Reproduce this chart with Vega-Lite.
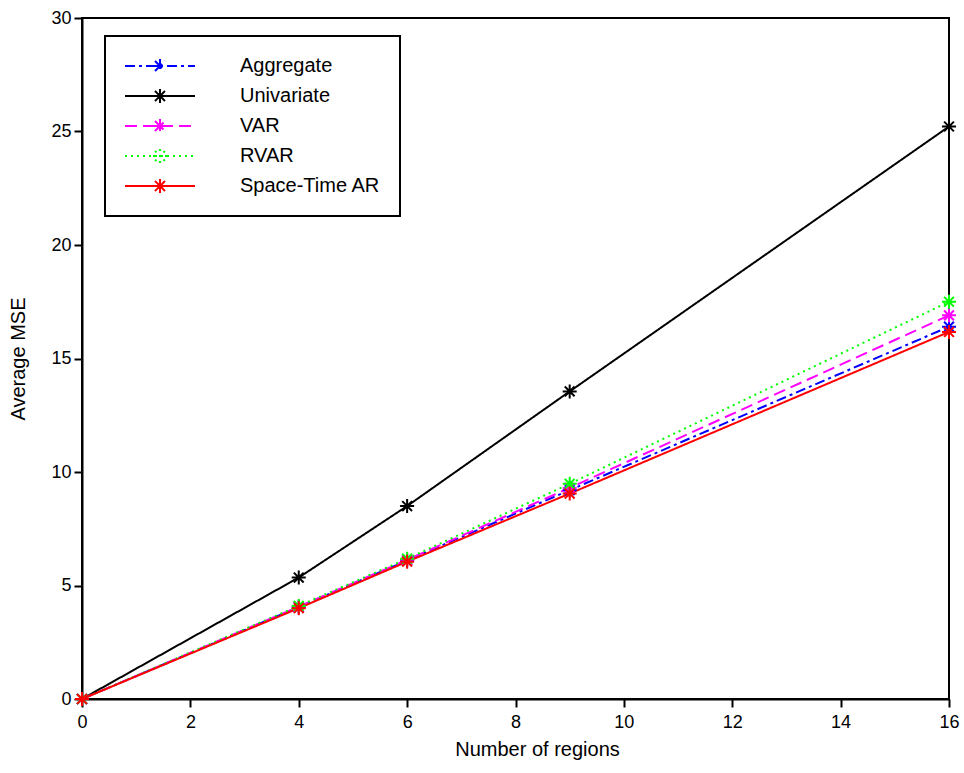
{
  "$schema": "https://vega.github.io/schema/vega-lite/v6.json",
  "width": 867,
  "height": 681,
  "autosize": {"type": "none"},
  "padding": {"left": 82, "top": 18, "right": 15, "bottom": 74},
  "background": "white",
  "config": {
    "view": {"stroke": "black", "strokeWidth": 2},
    "font": "Liberation Sans",
    "axis": {
      "grid": false,
      "domainColor": "black",
      "domainWidth": 2,
      "tickColor": "black",
      "tickWidth": 2,
      "tickSize": 8,
      "labelFlush": false,
      "labelFont": "Liberation Sans",
      "labelFontSize": 18,
      "labelColor": "black",
      "titleFont": "Liberation Sans",
      "titleFontSize": 20,
      "titleFontWeight": "normal",
      "titleColor": "black"
    },
    "legend": {
      "labelFont": "Liberation Sans",
      "labelFontSize": 20,
      "labelColor": "black"
    }
  },
  "data": {
    "values": [
      {"series": "Aggregate", "n": 0, "mse": 0},
      {"series": "Aggregate", "n": 4, "mse": 4.05},
      {"series": "Aggregate", "n": 6, "mse": 6.1},
      {"series": "Aggregate", "n": 9, "mse": 9.2},
      {"series": "Aggregate", "n": 16, "mse": 16.4},
      {"series": "Univariate", "n": 0, "mse": 0},
      {"series": "Univariate", "n": 4, "mse": 5.35},
      {"series": "Univariate", "n": 6, "mse": 8.5},
      {"series": "Univariate", "n": 9, "mse": 13.55},
      {"series": "Univariate", "n": 16, "mse": 25.22},
      {"series": "VAR", "n": 0, "mse": 0},
      {"series": "VAR", "n": 4, "mse": 4.07},
      {"series": "VAR", "n": 6, "mse": 6.13},
      {"series": "VAR", "n": 9, "mse": 9.3},
      {"series": "VAR", "n": 16, "mse": 16.9},
      {"series": "RVAR", "n": 0, "mse": 0},
      {"series": "RVAR", "n": 4, "mse": 4.1},
      {"series": "RVAR", "n": 6, "mse": 6.18},
      {"series": "RVAR", "n": 9, "mse": 9.48},
      {"series": "RVAR", "n": 16, "mse": 17.5},
      {"series": "Space-Time AR", "n": 0, "mse": 0},
      {"series": "Space-Time AR", "n": 4, "mse": 4.0},
      {"series": "Space-Time AR", "n": 6, "mse": 6.05},
      {"series": "Space-Time AR", "n": 9, "mse": 9.05},
      {"series": "Space-Time AR", "n": 16, "mse": 16.17}
    ]
  },
  "encoding": {
    "x": {
      "field": "n",
      "type": "quantitative",
      "scale": {"domain": [0, 16], "nice": false, "zero": false},
      "axis": {
        "values": [0, 2, 4, 6, 8, 10, 12, 14, 16],
        "title": "Number of regions",
        "labelPadding": 6,
        "titlePadding": 8,
        "titleX": 455,
        "encode": {"ticks": {"update": {"y2": {"value": -8}}}}
      }
    },
    "y": {
      "field": "mse",
      "type": "quantitative",
      "scale": {"domain": [0, 30], "nice": false},
      "axis": {
        "values": [0, 5, 10, 15, 20, 25, 30],
        "title": "Average MSE",
        "labelPadding": 3,
        "titlePadding": 22,
        "encode": {"ticks": {"update": {"x2": {"value": 8}}}}
      }
    },
    "color": {
      "field": "series",
      "type": "nominal",
      "scale": {
        "domain": ["Aggregate", "Univariate", "VAR", "RVAR", "Space-Time AR"],
        "range": ["#0000ff", "#000000", "#ff00ff", "#00ff00", "#ff0000"]
      },
      "legend": {
        "title": null,
        "orient": "none",
        "legendX": 23,
        "legendY": 18,
        "symbolType": "M2.5,-0.7L2.5,0.7M1.8,0L3.2,0M2,-0.5L3,0.5M2,0.5L3,-0.5M-1,0L6,0",
        "symbolSize": 400,
        "symbolStrokeWidth": 2,
        "symbolFillColor": "transparent",
        "labelOffset": 94,
        "rowPadding": 8,
        "padding": 19,
        "strokeColor": "black",
        "fillColor": "white",
        "cornerRadius": 0,
        "encode": {
          "legend": {"update": {"strokeWidth": {"value": 2}}}
        }
      }
    }
  },
  "layer": [
    {
      "mark": {"type": "line", "strokeWidth": 2},
      "encoding": {
        "strokeDash": {
          "field": "series",
          "type": "nominal",
          "scale": {
            "domain": ["Aggregate", "Univariate", "VAR", "RVAR", "Space-Time AR"],
            "range": [[10, 4, 3, 4], [1, 0], [12, 6], [2, 4], [1, 0]]
          },
          "legend": null
        }
      }
    },
    {
      "mark": {
        "type": "point",
        "filled": false,
        "shape": "M0,-1L0,1M-1,0L1,0M-0.7,-0.7L0.7,0.7M-0.7,0.7L0.7,-0.7",
        "size": 196,
        "strokeWidth": 2,
        "opacity": 1
      }
    }
  ]
}
